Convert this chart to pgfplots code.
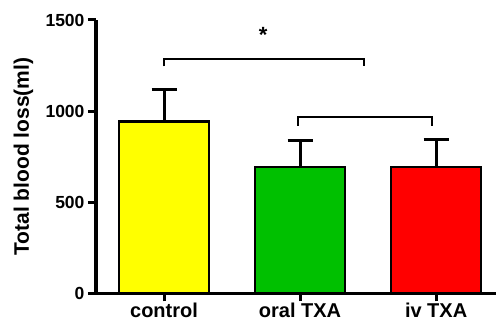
\documentclass[border=0pt]{standalone}
\usepackage{pgfplots}
\pgfplotsset{compat=1.18}
\usepackage{fontspec}
\setmainfont{Liberation Sans}
\definecolor{cyel}{RGB}{255,255,0}
\definecolor{cgrn}{RGB}{0,192,0}
\definecolor{cred}{RGB}{255,0,0}
\begin{document}
\begin{tikzpicture}
\begin{axis}[
  name=ax,
  scale only axis,
  width=400pt, height=273.3pt,
  xmin=-0.5, xmax=2.44, ymin=0, ymax=1500,
  clip=false,
  axis x line*=bottom, axis y line*=left,
  axis line style={-, line width=3pt, black},
  ytick={0,500,1000,1500},
  xtick={0,1,2},
  xticklabels={control, oral TXA, iv TXA},
  tick align=outside,
  major tick length=8pt,
  tick style={line width=3pt, black},
  /pgf/number format/assume math mode=true,
  /pgf/number format/set thousands separator={},
  yticklabel style={font=\bfseries\fontsize{17.5}{17.5}\selectfont},
  xticklabel style={font=\bfseries\fontsize{20}{20}\selectfont, inner sep=1.5pt},
  every axis y label/.style={at={([xshift=-67pt]axis description cs:0,0.5)}, anchor=base, rotate=90, inner sep=0pt, font=\bfseries\fontsize{21}{21}\selectfont},
  ylabel={Total blood loss(ml)},
]
\addplot[ybar, bar width=0.66, bar shift=0pt, fill=cyel, draw=black, line width=2.5pt,
  error bars/.cd, y dir=plus, y explicit,
  error bar style={line width=3pt, black},
  error mark options={rotate=90, mark size=12.5pt, line width=3pt, black}]
  coordinates {(0,943) +- (0,178)};
\addplot[ybar, bar width=0.66, bar shift=0pt, fill=cgrn, draw=black, line width=2.5pt,
  error bars/.cd, y dir=plus, y explicit,
  error bar style={line width=3pt, black},
  error mark options={rotate=90, mark size=12.5pt, line width=3pt, black}]
  coordinates {(1,692) +- (0,145)};
\addplot[ybar, bar width=0.66, bar shift=0pt, fill=cred, draw=black, line width=2.5pt,
  error bars/.cd, y dir=plus, y explicit,
  error bar style={line width=3pt, black},
  error mark options={rotate=90, mark size=12.5pt, line width=3pt, black}]
  coordinates {(2,692) +- (0,154)};
\addplot[black, line width=2.5pt, mark=none] coordinates {(0,1245) (0,1287) (1.47,1287) (1.47,1245)};
\addplot[black, line width=2.5pt, mark=none] coordinates {(0.985,919) (0.985,967) (1.97,967) (1.97,919)};
\node[anchor=north, inner sep=0pt, font=\bfseries\fontsize{22}{22}\selectfont] at (axis cs:0.728,1463) {*};
\end{axis}
\pgfresetboundingbox
\path[use as bounding box] ([shift={(-96pt,-27.7pt)}]ax.south west) rectangle ([shift={(0pt,20pt)}]ax.north east);
\end{tikzpicture}
\end{document}
